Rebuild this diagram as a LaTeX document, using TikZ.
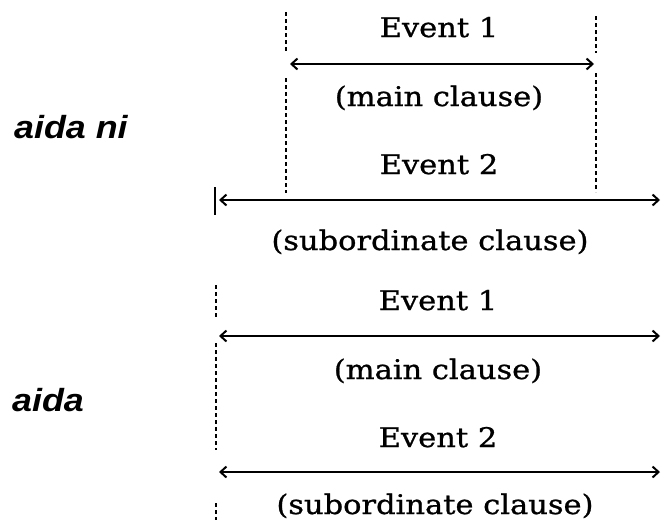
\documentclass[tikz,border=0pt]{standalone}
\usepackage{fontspec}
\newfontfamily\evfont[FakeStretch=1.13,FakeBold=0.9]{DejaVu Serif}
\newfontfamily\labfont[FakeStretch=1.12]{Liberation Sans}
\usetikzlibrary{arrows.meta}
\tikzset{
  lbl/.style={font=\evfont\fontsize{27}{29}\selectfont, inner sep=0pt, anchor=base},
  side/.style={font=\labfont\bfseries\itshape\fontsize{32}{34}\selectfont, inner sep=0pt, anchor=base west},
  tip/.style={},
  span/.style={line width=2.2pt, {Straight Barb[length=6pt,width=11pt,line width=2pt]}-{Straight Barb[length=6pt,width=11pt,line width=2pt]}},
  guide/.style={line width=1.2pt, dash pattern=on 4pt off 3pt},
  bar/.style={line width=1.8pt}
}
\begin{document}
\begin{tikzpicture}[x=1pt,y=-1pt]
\useasboundingbox (0,0) rectangle (661,520);
% side labels
\node[side] (an) at (14,138) {aida ni};
\node[side] (a) at (12,411) {aida};
% top section
\node[lbl] (e1t) at (439,37) {Event 1};
\node[lbl] (m1t) at (439,106) {(main clause)};
\node[lbl] (e2t) at (439,174) {Event 2};
\node[lbl] (s1t) at (430,250) {(subordinate clause)};
\coordinate (a1l) at (290,64);
\coordinate (a1r) at (594,64);
\coordinate (a2l) at (219,200);
\coordinate (a2r) at (660,200);
\draw[span] (a1l) -- (a1r);
\draw[span] (a2l) -- (a2r);
\coordinate (d1a) at (286,12); \coordinate (d1b) at (286,53);
\coordinate (d1c) at (286,78); \coordinate (d1d) at (286,193);
\coordinate (d2a) at (596,16); \coordinate (d2b) at (596,53);
\coordinate (d2c) at (596,73); \coordinate (d2d) at (596,192);
\draw[guide] (d1a) -- (d1b) (d1c) -- (d1d);
\draw[guide] (d2a) -- (d2b) (d2c) -- (d2d);
\coordinate (b1) at (215,187); \coordinate (b2) at (215,215);
\draw[bar] (b1) -- (b2);
% bottom section
\node[lbl] (e1b) at (438,310) {Event 1};
\node[lbl] (m1b) at (438,379) {(main clause)};
\node[lbl] (e2b) at (438,447) {Event 2};
\node[lbl] (s1b) at (435,514) {(subordinate clause)};
\coordinate (a3l) at (219,336);
\coordinate (a3r) at (660,336);
\coordinate (a4l) at (219,472);
\coordinate (a4r) at (660,472);
\draw[span] (a3l) -- (a3r);
\draw[span] (a4l) -- (a4r);
\coordinate (d3a) at (216,285); \coordinate (d3b) at (216,318);
\coordinate (d3c) at (216,343); \coordinate (d3d) at (216,450);
\coordinate (d3e) at (216,503); \coordinate (d3f) at (216,520);
\draw[guide] (d3a) -- (d3b) (d3c) -- (d3d) (d3e) -- (d3f);
\end{tikzpicture}
\end{document}
